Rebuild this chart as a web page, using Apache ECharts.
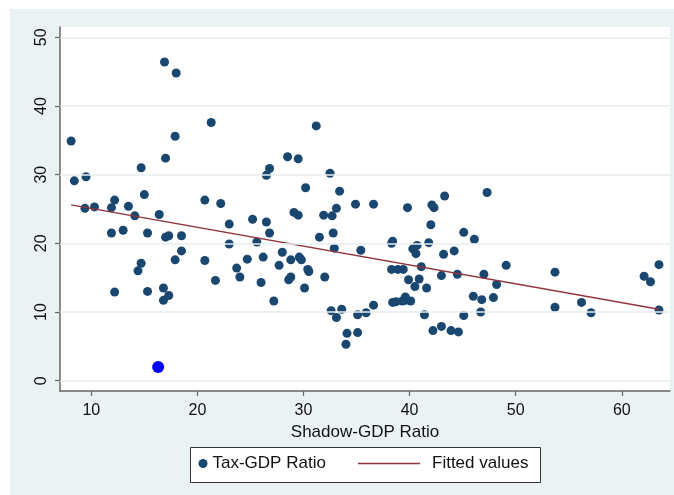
<!DOCTYPE html>
<html>
<head>
<meta charset="utf-8">
<script src="https://cdn.jsdelivr.net/npm/echarts@6/dist/echarts.min.js"></script>
<style>
  html, body { margin: 0; padding: 0; background: #ffffff; }
  body { width: 674px; height: 495px; position: relative; overflow: hidden; }
  #chart { position: absolute; left: 10px; top: 9px; width: 664px; height: 486px; }
</style>
</head>
<body>
<div id="chart"></div>
<script>
// Shadow economy size (% of GDP) per country
const shadowRatio = [
  8.1, 8.4, 9.5, 9.4, 10.3, 11.9, 12.2, 13.5, 14.1, 14.7,
  15.0, 16.4, 16.9, 18.0, 17.9, 17.0, 21.3, 20.7, 11.9, 13.0,
  15.3, 17.0, 17.3, 18.5, 18.5, 17.9, 20.7, 21.7, 14.7, 14.4,
  12.2, 15.3, 16.8, 17.3, 16.8, 31.2, 28.5, 29.5, 26.8, 26.5,
  32.5, 30.2, 33.4, 22.2, 34.9, 33.1, 29.1, 29.5, 31.9, 32.7,
  25.2, 26.5, 23.0, 26.8, 32.8, 31.5, 25.6, 23.0, 32.9, 35.4,
  28.0, 24.7, 26.2, 28.8, 29.6, 29.8, 27.7, 23.7, 30.4, 30.5,
  24.0, 26.0, 28.8, 28.6, 32.0, 30.1, 27.2, 32.6, 33.6, 33.1,
  35.1, 35.9, 34.1, 35.1, 34.0, 47.3, 43.3, 42.1, 42.3, 39.8,
  36.6, 42.0, 45.1, 46.1, 38.4, 38.3, 41.8, 40.7, 40.3, 40.6,
  43.2, 44.2, 49.1, 38.3, 38.9, 39.4, 41.1, 39.9, 40.9, 40.5,
  41.6, 43.0, 44.5, 47.0, 48.2, 46.0, 46.8, 47.9, 46.7, 45.1,
  41.4, 38.4, 38.7, 39.3, 39.6, 39.6, 40.1, 36.6, 42.2, 43.0,
  43.9, 44.6, 53.7, 53.7, 56.2, 57.1, 62.1, 62.7, 63.5, 63.5
];
// Tax revenue (% of GDP), same country order
const taxRatio = [
  34.9, 29.1, 29.7, 25.1, 25.3, 25.2, 26.3, 25.4, 24.0, 31.0,
  27.1, 24.2, 46.4, 44.8, 35.6, 32.4, 37.6, 26.3, 21.5, 21.9,
  21.5, 20.9, 21.1, 21.1, 18.9, 17.6, 17.5, 14.6, 17.1, 16.0,
  12.9, 13.0, 13.5, 12.4, 11.7, 37.1, 32.6, 32.3, 30.9, 29.9,
  30.2, 28.1, 27.6, 25.8, 25.7, 25.1, 24.5, 24.1, 24.1, 24.0,
  23.5, 23.1, 22.8, 21.5, 21.5, 20.9, 20.2, 19.9, 19.3, 19.0,
  18.7, 17.7, 18.0, 17.6, 18.0, 17.6, 16.8, 16.4, 16.2, 15.9,
  15.1, 14.3, 15.1, 14.7, 15.1, 13.5, 11.6, 10.2, 10.4, 9.2,
  9.6, 9.9, 6.9, 7.0, 5.3, 27.4, 26.9, 25.6, 25.2, 25.2,
  25.7, 22.7, 21.6, 20.6, 20.3, 20.0, 20.1, 19.7, 19.2, 18.5,
  18.4, 18.9, 16.8, 16.2, 16.2, 16.2, 16.6, 14.7, 14.8, 13.7,
  13.5, 15.3, 15.5, 15.5, 14.0, 12.3, 11.8, 12.1, 10.0, 9.5,
  9.6, 11.4, 11.5, 11.6, 12.2, 11.7, 11.6, 11.0, 7.3, 7.9,
  7.3, 7.1, 15.8, 10.7, 11.4, 9.9, 15.2, 14.4, 16.9, 10.3
];
// Highlighted observation
const highlightX = [16.3];
const highlightY = [2.0];
// Linear fit, end points
const fitX = [8.1, 63.5];
const fitY = [25.6, 10.4];
// Axis ticks
const xTicks = [10, 20, 30, 40, 50, 60];
const yTicks = [0, 10, 20, 30, 40, 50];

const FONT = '"Liberation Sans", Arial, sans-serif';
const NAVY = '#1a476f';
const MAROON = '#90353b';
const AXIS = '#666666';

const chart = echarts.init(document.getElementById('chart'));

const pairs = (xs, ys) => xs.map((x, i) => [x, ys[i]]);

chart.setOption({
  animation: false,
  backgroundColor: '#eaf2f3',
  textStyle: { fontFamily: FONT },
  grid: {
    left: 50, top: 18, right: 4, bottom: 104,
    show: true, backgroundColor: '#ffffff', borderWidth: 0
  },
  xAxis: {
    type: 'value',
    min: 7.05, max: 64.54,
    name: 'Shadow-GDP Ratio',
    nameLocation: 'middle',
    nameGap: 29,
    nameTextStyle: { fontFamily: FONT, fontSize: 17, color: '#111' },
    axisLine: { show: true, onZero: false, lineStyle: { color: AXIS, width: 1.5 } },
    axisTick: { show: true, length: 5, customValues: xTicks, lineStyle: { color: AXIS, width: 1.2 } },
    axisLabel: { customValues: xTicks, margin: 12, fontFamily: FONT, fontSize: 16, color: '#111' },
    splitLine: { show: false }
  },
  yAxis: {
    type: 'value',
    min: -1.5, max: 51.5,
    axisLine: { show: true, onZero: false, lineStyle: { color: AXIS, width: 1.5 } },
    axisTick: { show: true, length: 5, customValues: yTicks, lineStyle: { color: AXIS, width: 1.2 } },
    axisLabel: { customValues: yTicks, rotate: 90, margin: 10, fontFamily: FONT, fontSize: 16, color: '#111' },
    splitLine: { show: false }
  },
  legend: [
    {
      data: ['Tax-GDP Ratio'],
      left: 188.5, top: 446,
      padding: 0,
      itemWidth: 9, itemHeight: 9,
      icon: 'circle',
      itemStyle: { opacity: 1 },
      textStyle: { fontFamily: FONT, fontSize: 17, color: '#111' },
      selectedMode: false
    },
    {
      data: [{ name: 'Fitted values', icon: 'rect' }],
      left: 348, top: 446,
      padding: 0,
      itemWidth: 62, itemHeight: 1.5,
      itemStyle: { color: MAROON, borderWidth: 0 },
      textStyle: { fontFamily: FONT, fontSize: 17, color: '#111', padding: [0, 0, 0, 7] },
      selectedMode: false
    }
  ],
  graphic: [
    {
      type: 'rect',
      left: 180, top: 438,
      shape: { width: 350, height: 35 },
      style: { fill: '#ffffff', stroke: '#333333', lineWidth: 1 },
      z: -1
    }
  ],
  series: [
    {
      // horizontal reference lines at each y tick
      name: 'grid',
      type: 'scatter',
      data: [],
      silent: true,
      z: 1,
      markLine: {
        silent: true,
        symbol: 'none',
        label: { show: false },
        lineStyle: { color: '#e6eef1', width: 1.5, type: 'solid' },
        data: yTicks.map(v => ({ yAxis: v }))
      }
    },
    {
      name: 'Tax-GDP Ratio',
      type: 'scatter',
      data: pairs(shadowRatio, taxRatio),
      symbol: 'circle',
      symbolSize: 9,
      itemStyle: { color: NAVY, opacity: 1 },
      z: 3
    },
    {
      name: 'Highlight',
      type: 'scatter',
      data: pairs(highlightX, highlightY),
      symbol: 'circle',
      symbolSize: 12,
      itemStyle: { color: '#0000ff', opacity: 1 },
      z: 3
    },
    {
      name: 'Fitted values',
      type: 'line',
      data: pairs(fitX, fitY),
      symbol: 'none',
      lineStyle: { color: MAROON, width: 1.5 },
      itemStyle: { color: MAROON },
      z: 4
    }
  ]
});
</script>
</body>
</html>
